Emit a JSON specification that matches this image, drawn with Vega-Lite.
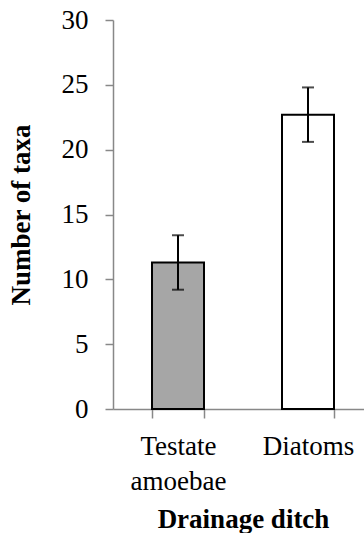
{
  "$schema": "https://vega.github.io/schema/vega-lite/v6.json",
  "autosize": {"type": "none"},
  "padding": {"left": 113, "top": 20, "right": 0, "bottom": 124},
  "width": 260,
  "height": 389,
  "background": "white",
  "config": {
    "view": {"stroke": null},
    "font": "Liberation Serif",
    "axis": {
      "labelColor": "black",
      "titleColor": "black",
      "domainColor": "#888888",
      "tickColor": "#888888",
      "domainWidth": 1.5,
      "tickWidth": 1.5,
      "grid": false
    }
  },
  "data": {
    "values": [
      {"taxon": "Testate amoebae", "mean": 11.3, "lo": 9.2, "hi": 13.4},
      {"taxon": "Diatoms", "mean": 22.7, "lo": 20.6, "hi": 24.8}
    ]
  },
  "encoding": {
    "x": {
      "field": "taxon",
      "type": "nominal",
      "sort": null,
      "scale": {"paddingInner": 0.6, "paddingOuter": 0.3},
      "axis": {
        "title": "Drainage ditch",
        "titleFont": "Liberation Serif",
        "titleFontSize": 27,
        "titleFontWeight": "bold",
        "titlePadding": 12,
        "labelFont": "Liberation Serif",
        "labelFontSize": 27,
        "labelAngle": 0,
        "labelPadding": 15,
        "labelLineHeight": 35,
        "labelExpr": "datum.label == 'Testate amoebae' ? ['Testate', 'amoebae'] : datum.label",
        "tickBand": "extent",
        "tickSize": 9
      }
    }
  },
  "layer": [
    {
      "mark": {"type": "bar", "stroke": "black", "strokeWidth": 2},
      "encoding": {
        "y": {
          "field": "mean",
          "type": "quantitative",
          "scale": {"domain": [0, 30], "nice": false},
          "axis": {
            "title": "Number of taxa",
            "titleFont": "Liberation Serif",
            "titleFontSize": 27,
            "titleFontWeight": "bold",
            "titlePadding": 26,
            "labelFont": "Liberation Serif",
            "labelFontSize": 27,
            "labelPadding": 17,
            "values": [0, 5, 10, 15, 20, 25, 30],
            "tickSize": 8
          }
        },
        "fill": {
          "field": "taxon",
          "type": "nominal",
          "scale": {"domain": ["Testate amoebae", "Diatoms"], "range": ["#a6a6a6", "#ffffff"]},
          "legend": null
        }
      }
    },
    {
      "mark": {"type": "rule", "color": "black", "strokeWidth": 2},
      "encoding": {
        "y": {"field": "lo", "type": "quantitative"},
        "y2": {"field": "hi"}
      }
    },
    {
      "mark": {"type": "tick", "color": "black", "size": 12, "thickness": 2},
      "encoding": {"y": {"field": "lo", "type": "quantitative"}}
    },
    {
      "mark": {"type": "tick", "color": "black", "size": 12, "thickness": 2},
      "encoding": {"y": {"field": "hi", "type": "quantitative"}}
    }
  ]
}
